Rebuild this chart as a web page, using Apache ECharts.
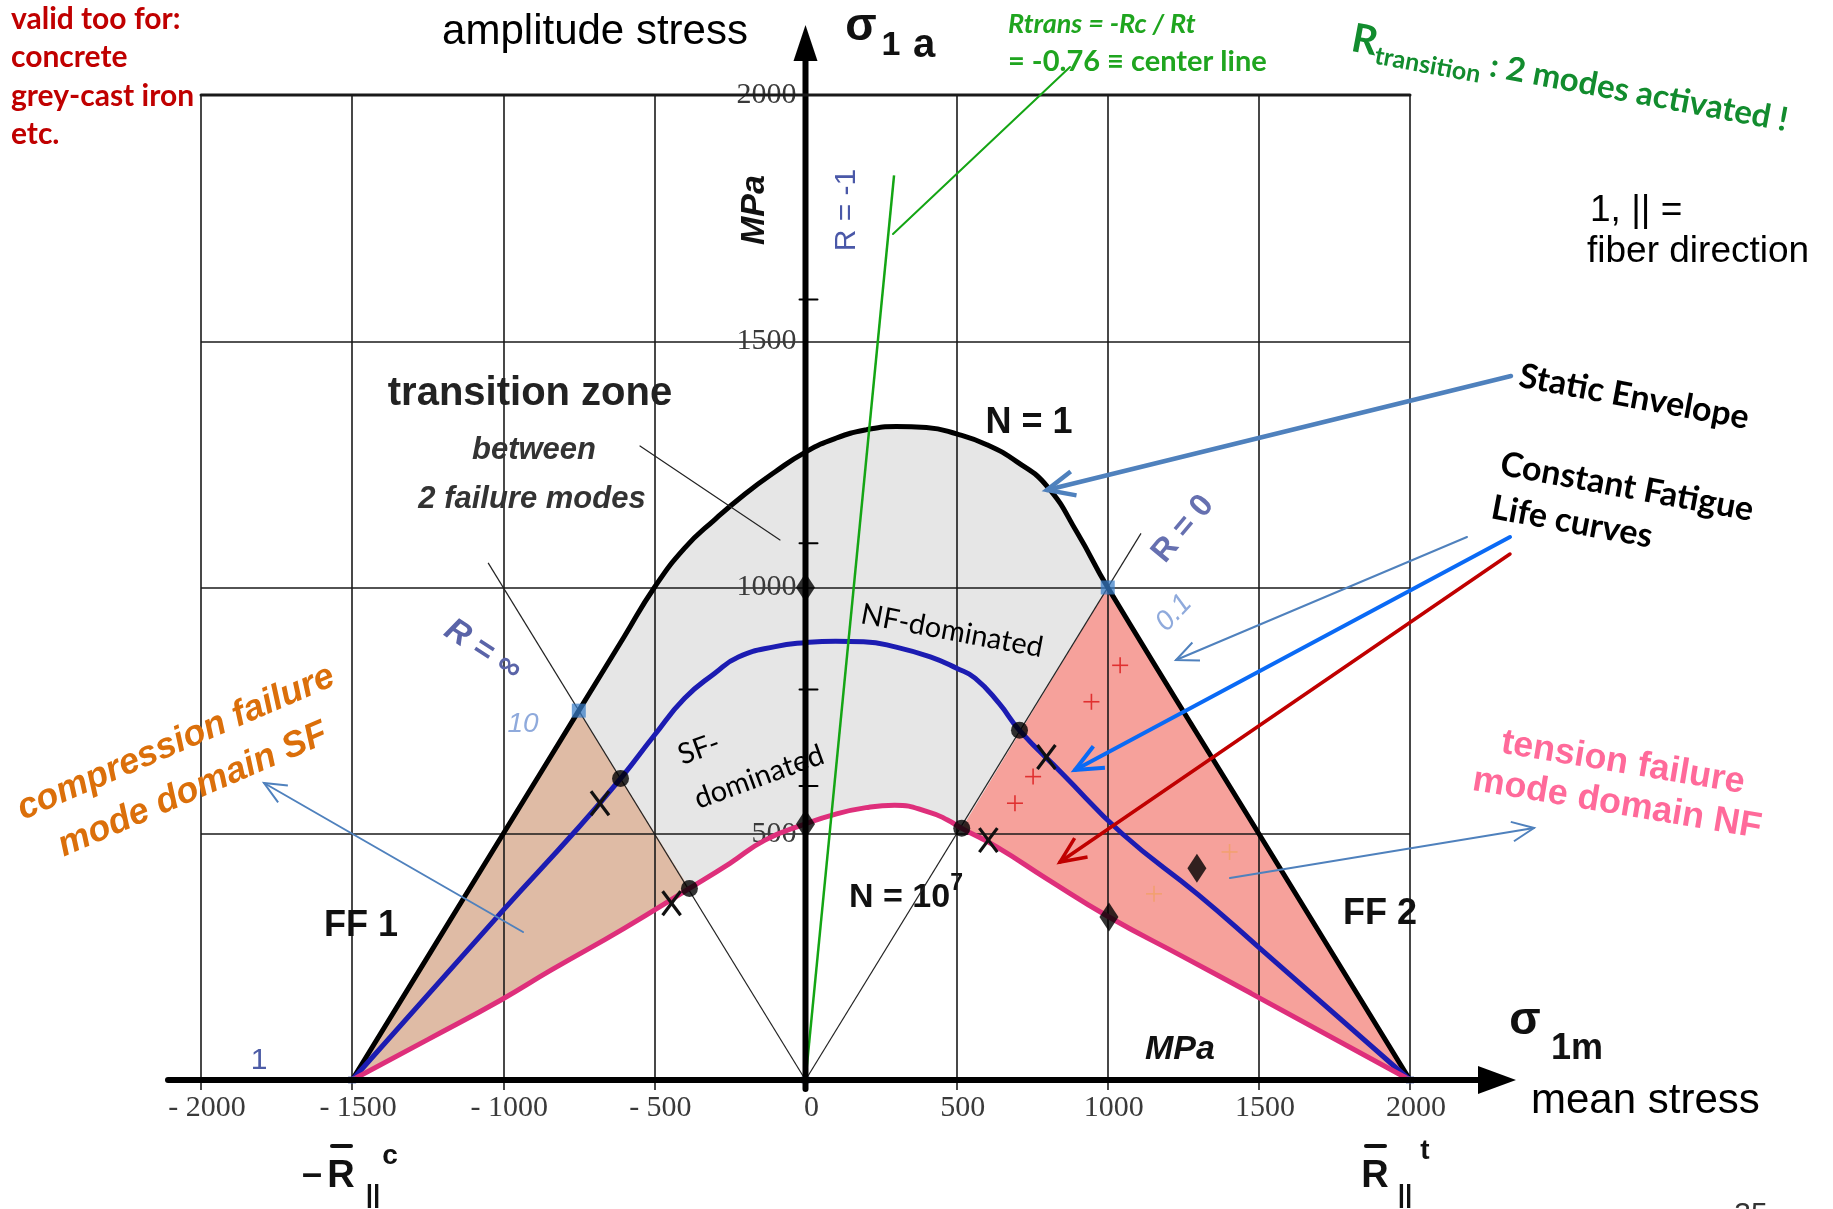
<!DOCTYPE html>
<html><head><meta charset="utf-8">
<script src="https://cdn.jsdelivr.net/npm/echarts@6/dist/echarts.min.js"></script>
<style>html,body{margin:0;padding:0;background:#fff}#c{width:1833px;height:1209px}</style>
</head><body><div id="c"></div>
<script>
// ---------------- data (MPa) ----------------
const yMinorTicks = [1585, 1090, 793, 597];
const envelope = [[-1500,0],[-1250,250],[-1000,500],[-750,750],[-600,900],[-500,1000],[-400,1080],[-300,1138],[-200,1190],[-100,1235],[0,1275],[100,1303],[200,1320],[300,1327],[400,1325],[500,1312],[600,1290],[700,1255],[800,1205],[900,1110],[1000,1000],[1500,500],[2000,0]];
const fatigueBlue = [[-1500,0],[-1000,345],[-762,505],[-612,612],[-500,700],[-400,775],[-300,826],[-222,859],[-100,880],[0,888],[100,891],[192,890],[300,879],[413,859],[500,836],[561,816],[640,765],[708,710],[850,622],[1048,500],[1300,376],[1497,271],[2000,0]];
const fatiguePink = [[-1500,0],[-1250,82],[-1009,162],[-842,223],[-600,308],[-384,389],[-250,440],[-134,487],[0,520],[100,540],[200,553],[295,558],[413,543],[470,528],[517,511],[634,473],[800,408],[1004,331],[1250,250],[1474,176],[2000,0]];
const rInfLine = [[-1050,1050],[0,0]];
const r0Line = [[0,0],[1110,1110]];
const centerLine = [[0,0],[293,1837]];
const dots = [[-612,612],[-384,389],[708,710],[517,511]];
const diamonds = [[0,1000],[0,520],[1004,331],[1295,430]];
const crosses = [[-680,562],[-443,359],[797,656],[605,487]];
const redPlus = [[1041,842],[946,768],[693,562],[753,616]];
const orangePlus = [[1403,463],[1153,378]];
const blueSquares = [[-750,750],[1000,1000]];
const axisMarks = [[-1500,0],[0,0],[2000,0]];

// ---------------- regions built from the curves ----------------
const brownPoly = envelope.filter(p => p[0] <= -750).concat(fatiguePink.filter(p => p[0] <= -384).reverse());
const grayPoly = envelope.filter(p => p[0] >= -750 && p[0] <= 1000).concat(fatiguePink.filter(p => p[0] >= -384 && p[0] <= 517).reverse());
const pinkPoly = envelope.filter(p => p[0] >= 1000).concat(fatiguePink.filter(p => p[0] >= 517).reverse());

function polySeries(poly, fill) {
  return {type:'custom', coordinateSystem:'cartesian2d', z:1, silent:true, data:[[0,0]],
    renderItem:(params, api) => ({type:'polygon', shape:{points: poly.map(p => api.coord(p))}, style:{fill}})};
}
function glyphSeries(pts, kind, color, w, s) {
  return {type:'custom', coordinateSystem:'cartesian2d', z:6, silent:true, data:pts,
    renderItem:(params, api) => {
      const c = api.coord([api.value(0), api.value(1)]);
      const st = {stroke:color, lineWidth:w};
      if (kind === 'x') return {type:'group', children:[
        {type:'line', shape:{x1:c[0]-s*0.75, y1:c[1]-s, x2:c[0]+s*0.75, y2:c[1]+s}, style:st},
        {type:'line', shape:{x1:c[0]+s*0.75, y1:c[1]-s, x2:c[0]-s*0.75, y2:c[1]+s}, style:st}]};
      return {type:'group', children:[
        {type:'line', shape:{x1:c[0]-s, y1:c[1], x2:c[0]+s, y2:c[1]}, style:st},
        {type:'line', shape:{x1:c[0], y1:c[1]-s, x2:c[0], y2:c[1]+s}, style:st}]};
    }};
}
function lineSeries(data, color, width, z, smooth) {
  return {type:'line', data, showSymbol:false, symbol:'none', silent:true, z:z||4, smooth:smooth||false, lineStyle:{color, width}};
}

const chart = echarts.init(document.getElementById('c'));
const splitStyle = {show:true, lineStyle:{color:'#1a1a1a', width:1.6}};
const labelFont = {fontFamily:'Liberation Serif', fontSize:30, color:'#3a3a3a'};
const option = {
  animation:false, backgroundColor:'#fff',
  grid:{left:201, right:423, top:95, bottom:129, containLabel:false, outerBoundsMode:'none'},
  xAxis:{type:'value', min:-2000, max:2000, interval:500, z:2,
    axisLine:{show:false, onZero:true},
    axisTick:{show:true, length:10, lineStyle:{color:'#111', width:1.5}},
    splitLine:splitStyle,
    axisLabel:Object.assign({margin:13, padding:[0,0,0,12], showMinLabel:true, showMaxLabel:true,
      formatter: v => v < 0 ? '- ' + (-v) : String(v)}, labelFont)},
  yAxis:{type:'value', min:0, max:2000, interval:500, z:2, position:'left',
    axisLine:{show:false, onZero:false}, axisTick:{show:false}, splitLine:splitStyle,
    axisLabel:Object.assign({margin:9, padding:[6,0,0,0], showMinLabel:true, showMaxLabel:true,
      formatter: v => v === 0 ? '' : String(v)}, labelFont)},
  series:[
    polySeries(grayPoly, '#E6E6E6'),
    polySeries(brownPoly, '#DFBBA5'),
    polySeries(pinkPoly, '#F6A19B'),
    lineSeries(rInfLine, '#222', 1.2, 3),
    lineSeries(r0Line, '#222', 1.2, 3),
    lineSeries(envelope, '#000', 5, 4, 0.5),
    lineSeries(fatigueBlue, '#1C1CB2', 5, 4, 0.5),
    lineSeries(fatiguePink, '#DE2F7B', 5, 4, 0.5),
    lineSeries(centerLine, '#14A514', 2.5, 5),
    {type:'scatter', data:axisMarks, symbol:'rect', symbolSize:8, z:6, silent:true, itemStyle:{color:'rgba(90,110,170,0.55)'}},
    {type:'scatter', data:blueSquares, symbol:'rect', symbolSize:14, z:6, silent:true, itemStyle:{color:'rgba(55,125,200,0.9)'}},
    {type:'scatter', data:dots, symbol:'circle', symbolSize:17, z:7, silent:true, itemStyle:{color:'#000'}},
    {type:'scatter', data:diamonds, symbol:'diamond', symbolSize:[19,29], z:7, silent:true, itemStyle:{color:'#000'}},
    glyphSeries(crosses, 'x', '#111', 3.2, 12),
    glyphSeries(redPlus, '+', '#E03030', 1.6, 8),
    glyphSeries(orangePlus, '+', '#F2A070', 1.6, 8)
  ]
};
chart.setOption(option);

// ---------------- annotations ----------------
const P = (x, y) => chart.convertToPixel({gridIndex:0}, [x, y]);
const O = P(0, 0), XL = P(-2000, 0)[0], XR = P(2000, 0)[0], YT = P(0, 2000)[1];
const mctx = document.createElement('canvas').getContext('2d');
const tw = (t, f) => { mctx.font = f; return mctx.measureText(t).width; };
const LS = 'Liberation Sans', LA = 'Lato';
function T(text, x, y, font, fill, rot, align) {
  align = align || 'center';
  return {type:'text', x, y, z:100, rotation:(rot||0)*Math.PI/180,
    style:{text, x:0, y:0, font, fill, align, verticalAlign:'middle', textAlign:align, textVerticalAlign:'middle'}};
}
function runs(parts, x, y, rot, align) {
  const ws = parts.map(p => tw(p[0], p[1]));
  const total = ws.reduce((a, b) => a + b, 0);
  let cx = align === 'left' ? 0 : -total / 2;
  const children = parts.map((p, i) => {
    const c = {type:'text', x:cx, y:p[3] || 0, style:{text:p[0], x:0, y:0, font:p[1], fill:p[2], align:'left', verticalAlign:'middle', textAlign:'left', textVerticalAlign:'middle'}};
    cx += ws[i]; return c;
  });
  return {type:'group', x, y, z:100, rotation:(rot||0)*Math.PI/180, children};
}
function L(x1, y1, x2, y2, stroke, w) {
  return {type:'line', z:90, shape:{x1, y1, x2, y2}, style:{stroke, lineWidth:w, lineCap:'round'}};
}
function arrow(x1, y1, x2, y2, color, w, head) {
  const a = Math.atan2(y2 - y1, x2 - x1), s = 0.42;
  const h1 = [x2 - head*Math.cos(a - s), y2 - head*Math.sin(a - s)];
  const h2 = [x2 - head*Math.cos(a + s), y2 - head*Math.sin(a + s)];
  return [L(x1, y1, x2, y2, color, w),
    {type:'polyline', z:90, shape:{points:[h1, [x2, y2], h2]}, style:{stroke:color, lineWidth:w, fill:null, lineJoin:'miter'}}];
}

const els = [];
// axes
els.push(L(XL - 33, O[1], XR + 72, O[1], '#000', 6));
els.push({type:'polygon', z:90, shape:{points:[[XR + 106, O[1]], [XR + 68, O[1] - 14], [XR + 68, O[1] + 14]]}, style:{fill:'#000'}});
els.push(L(O[0], O[1] + 9, O[0], YT - 38, '#000', 6));
els.push({type:'polygon', z:90, shape:{points:[[O[0], YT - 70], [O[0] - 12, YT - 34], [O[0] + 12, YT - 34]]}, style:{fill:'#000'}});
els.push(L(XL, YT, XR, YT, '#1a1a1a', 3));
yMinorTicks.forEach(v => { const p = P(0, v); els.push(L(p[0] - 6, p[1], p[0] + 12, p[1], '#000', 2)); });

// pointer lines and arrows
els.push(L(640, 446, 780, 540, '#222', 1.2));
els.push(L(893, 234, 1070, 67, '#14A514', 2));
els.push(...arrow(1511, 376, 1047, 490, '#4F81BD', 4.5, 30));
els.push(...arrow(1467, 537, 1176, 660, '#4F81BD', 2, 24));
els.push(...arrow(1510, 537, 1075, 770, '#0A6AF5', 4, 30));
els.push(...arrow(1510, 554, 1060, 862, '#C00000', 3.5, 28));
els.push(...arrow(523, 932, 264, 783, '#4F81BD', 2, 24));
els.push(...arrow(1230, 878, 1534, 828, '#4F81BD', 2, 24));

// texts
const red = '#C00000';
els.push(T('valid too for:', 11, 19, 'bold 30px ' + LA, red, 0, 'left'));
els.push(T('concrete', 11, 57, 'bold 30px ' + LA, red, 0, 'left'));
els.push(T('grey-cast iron', 11, 96, 'bold 30px ' + LA, red, 0, 'left'));
els.push(T('etc.', 11, 134, 'bold 30px ' + LA, red, 0, 'left'));
els.push(T('amplitude stress', 595, 32, '42px ' + LS, '#000'));
els.push(T('σ', 861, 27, 'bold 46px ' + LS, '#111'));
els.push(T('1', 891, 46, 'bold 34px ' + LS, '#111'));
els.push(T('a', 924, 46, 'bold 40px ' + LS, '#111'));
els.push(T('Rtrans = -Rc / Rt', 1008, 24, 'italic bold 27px ' + LA, '#1FA51F', 0, 'left'));
els.push(T('= -0.76 ≡ center line', 1008, 62, 'bold 29px ' + LA, '#1FA51F', 0, 'left'));
els.push(runs([['R', 'bold 40px ' + LA, '#128C2E', 0], ['transition', 'bold 25px ' + LA, '#128C2E', 13], [' : 2 modes activated !', 'bold 33px ' + LA, '#128C2E', 2]], 1352, 38, -10.5, 'left'));
els.push(T('1, || =', 1590, 211, '37px ' + LS, '#000', 0, 'left'));
els.push(T('fiber direction', 1587, 252, '37px ' + LS, '#000', 0, 'left'));
els.push(T('Static Envelope', 1634, 397, 'bold 34px ' + LA, '#000', -10.5));
els.push(T('Constant Fatigue', 1627, 487, 'bold 34px ' + LA, '#000', -10.5));
els.push(T('Life curves', 1572, 522, 'bold 34px ' + LA, '#000', -10.5));
els.push(T('tension failure', 1623, 763, 'bold 36px ' + LS, '#FF6A9A', -9.5));
els.push(T('mode domain NF', 1617, 804, 'bold 36px ' + LS, '#FF6A9A', -9.5));
els.push(T('compression failure', 176, 743, 'italic bold 36px ' + LS, '#DB6F0A', 23.4));
els.push(T('mode domain SF', 193, 790, 'italic bold 36px ' + LS, '#DB6F0A', 23.4));
els.push(T('transition zone', 530, 394, 'bold 40px ' + LS, '#222'));
els.push(T('between', 534, 450, 'italic bold 31px ' + LS, '#333'));
els.push(T('2 failure modes', 532, 499, 'italic bold 31px ' + LS, '#333'));
els.push(T('N = 1', 1029, 423, 'bold 36px ' + LS, '#111'));
els.push(T('NF-dominated', 952, 631, '29px ' + LA, '#000', -10.7));
els.push(T('SF-', 699, 749, '29px ' + LA, '#000', 20));
els.push(T('dominated', 759, 777, '29px ' + LA, '#000', 20));
els.push(T('R = ∞', 483, 650, 'italic bold 33px ' + LS, '#5A64A8', -33));
els.push(T('10', 523, 724, 'italic 28px ' + LS, '#8FAADC'));
els.push(T('R = 0', 1183, 529, 'bold 32px ' + LS, '#6670B0', 50));
els.push(T('0.1', 1174, 613, 'italic 28px ' + LS, '#8FAADC', 47));
els.push(T('FF 1', 361, 926, 'bold 36px ' + LS, '#111'));
els.push(T('FF 2', 1380, 914, 'bold 36px ' + LS, '#111'));
els.push(runs([['N = 10', 'bold 34px ' + LS, '#111', 0], ['7', 'bold 23px ' + LS, '#111', -14]], 906, 898, 0));
els.push(T('MPa', 1180, 1050, 'italic bold 34px ' + LS, '#111'));
els.push(T('MPa', 755, 210, 'italic bold 34px ' + LS, '#111', 90));
els.push(T('R = -1', 847, 210, '30px ' + LS, '#4A58A8', 90));
els.push(T('σ', 1525, 1021, 'bold 46px ' + LS, '#111'));
els.push(T('1m', 1551, 1049, 'bold 36px ' + LS, '#111', 0, 'left'));
els.push(T('mean stress', 1531, 1101, '42px ' + LS, '#000', 0, 'left'));
// -R||c and R||t
els.push(T('–', 312, 1175, 'bold 36px ' + LS, '#111'));
els.push(T('R', 341, 1177, 'bold 38px ' + LS, '#111'));
els.push(L(332, 1146, 351, 1146, '#111', 4));
els.push(T('||', 373, 1196, 'bold 26px ' + LS, '#111'));
els.push(T('c', 390, 1156, 'bold 28px ' + LS, '#111'));
els.push(T('R', 1375, 1177, 'bold 38px ' + LS, '#111'));
els.push(L(1366, 1146, 1385, 1146, '#111', 4));
els.push(T('||', 1405, 1196, 'bold 26px ' + LS, '#111'));
els.push(T('t', 1425, 1151, 'bold 28px ' + LS, '#111'));
els.push(T('1', 259, 1061, '30px ' + LS, '#4D5CA6'));
els.push(T('35', 1751, 1215, '30px ' + LS, '#333'));

// move the y axis labels next to the vertical axis at x = 0
chart.setOption({yAxis:{offset: -(O[0] - XL)}, graphic:{elements:els}});
</script></body></html>
